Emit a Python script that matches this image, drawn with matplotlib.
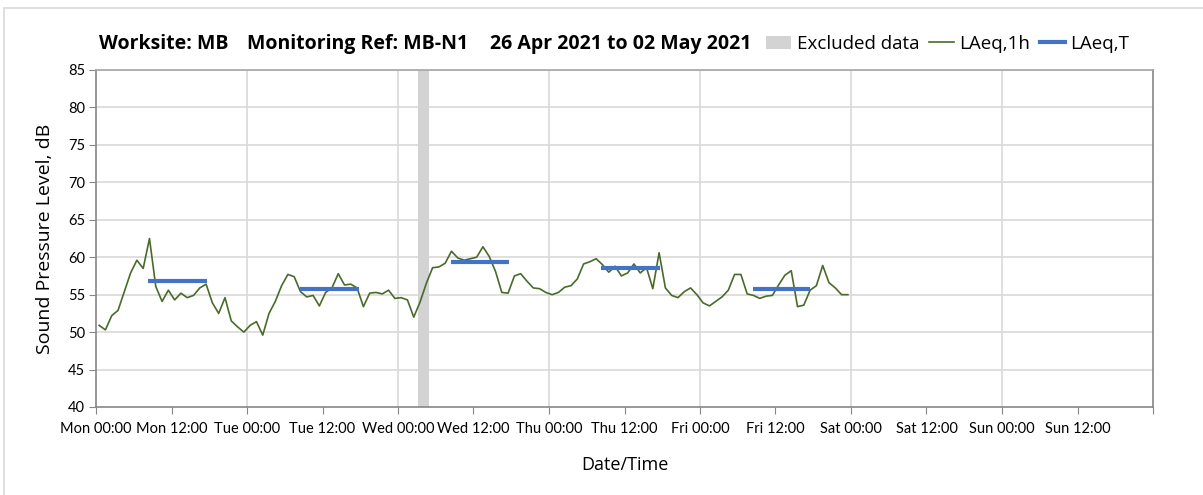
""" Noise monitoring chart, MB-N1
"""

import numpy as np
import matplotlib.pyplot as plt
from matplotlib.patches import Patch, Rectangle
from matplotlib.lines import Line2D

plt.rcParams['font.family'] = ['Lato', 'DejaVu Sans']

# Hourly LAeq,1h (dB), one value per hour from Mon 00:00
laeq_1h = [
    50.9, 50.3, 52.2, 52.9, 55.4, 57.9, 59.6, 58.5, 62.5, 56.1, 54.1, 55.6,
    54.3, 55.2, 54.6, 54.9, 55.9, 56.4, 53.9, 52.5, 54.6, 51.5, 50.7, 50.0,
    50.9, 51.4, 49.6, 52.5, 54.1, 56.2, 57.7, 57.4, 55.4, 54.7, 54.9, 53.5,
    55.3, 55.9, 57.8, 56.3, 56.4, 55.9, 53.4, 55.2, 55.3, 55.1, 55.6, 54.5,
    54.6, 54.3, 52.0, 54.0, 56.5, 58.6, 58.7, 59.2, 60.8, 59.9, 59.6, 59.8,
    60.0, 61.4, 60.1, 58.1, 55.3, 55.2, 57.5, 57.8, 56.8, 55.9, 55.8, 55.3,
    55.0, 55.3, 56.0, 56.2, 57.1, 59.1, 59.4, 59.8, 59.0, 58.0, 58.8, 57.5,
    57.9, 59.1, 57.9, 58.6, 55.8, 60.6, 55.9, 54.9, 54.6, 55.4, 55.9, 55.0,
    53.9, 53.5, 54.1, 54.7, 55.6, 57.7, 57.7, 55.1, 54.9, 54.5, 54.8, 54.9,
    56.3, 57.6, 58.2, 53.4, 53.6, 55.6, 56.2, 58.9, 56.6, 55.9, 55.0, 55.0,
]
# LAeq,T daytime periods (hours from Mon 00:00)
period_start = [8.3, 32.4, 56.4, 80.3, 104.4]
period_end = [17.6, 41.8, 65.6, 89.7, 113.5]
laeq_t = [56.8, 55.8, 59.4, 58.6, 55.7]
# Excluded data window (hours from Mon 00:00)
excluded_start = 51.1
excluded_end = 53.0

tick_labels = ['Mon 00:00', 'Mon 12:00', 'Tue 00:00', 'Tue 12:00', 'Wed 00:00',
               'Wed 12:00', 'Thu 00:00', 'Thu 12:00', 'Fri 00:00', 'Fri 12:00',
               'Sat 00:00', 'Sat 12:00', 'Sun 00:00', 'Sun 12:00', '']
title_parts = ['Worksite: MB', 'Monitoring Ref: MB-N1', '26 Apr 2021 to 02 May 2021']

GREEN = '#4a6a2a'
BLUE = '#4472c4'
GRID = '#d9d9d9'
AXIS = '#868686'
OPEN = ['Open Sans', 'DejaVu Sans']

fig = plt.figure(figsize=(12.03, 4.95), dpi=100)
ax = fig.add_axes([96 / 1203, 88 / 495, 1057 / 1203, 337 / 495])

hours = np.arange(len(laeq_1h)) + 0.5
ax.axvspan(excluded_start, excluded_end, color='#d3d3d3', lw=0, zorder=1)
ax.plot(hours, laeq_1h, color=GREEN, lw=1.2, zorder=3)
for s, e, v in zip(period_start, period_end, laeq_t):
    ax.plot([s, e], [v, v], color=BLUE, lw=3, solid_capstyle='butt', zorder=4)

ax.set_xlim(0, 168)
ax.set_ylim(40, 85)
ax.set_xticks(np.arange(0, 169, 12))
ax.set_xticklabels(tick_labels, fontsize=10.5)
ax.set_yticks(np.arange(40, 86, 5))
ax.tick_params(axis='y', labelsize=10.5, length=5, color=AXIS, pad=3)
ax.tick_params(axis='x', length=5, color=AXIS, pad=6)

# grid: horizontal every 5 dB, vertical at midnight only
for v in range(45, 86, 5):
    ax.axhline(v, color=GRID, lw=1.2, zorder=0)
for h in range(24, 168, 24):
    ax.axvline(h, color=GRID, lw=1.2, zorder=0)

for side in ['left', 'bottom', 'right', 'top']:
    ax.spines[side].set_color(AXIS)
    ax.spines[side].set_linewidth(1.2)
ax.spines['top'].set_color('#a6a6a6')

ax.set_ylabel('Sound Pressure Level, dB', fontsize=14, family=OPEN, labelpad=10)
ax.set_xlabel('Date/Time', fontsize=13, family=OPEN, labelpad=14)

for x, txt in zip([99, 247, 490], title_parts):
    fig.text(x / 1203, 1 - 44 / 495, txt, fontsize=14, fontweight='bold',
             family=OPEN, va='center', ha='left')

handles = [Patch(color='#d3d3d3', lw=0),
           Line2D([], [], color=GREEN, lw=1.2),
           Line2D([], [], color=BLUE, lw=3)]
fig.legend(handles, ['Excluded data', 'LAeq,1h', 'LAeq,T'], ncol=3,
           loc='center right', bbox_to_anchor=(1139 / 1203, 1 - 44 / 495),
           frameon=False, prop={'family': OPEN, 'size': 13.5},
           handlelength=1.35, handletextpad=0.3, columnspacing=0.5, borderpad=0)

# outer chart frame (partly cropped)
fig.patches.append(Rectangle((4 / 1203, -0.1), 1.2, 1 - 8 / 495 + 0.1,
                             transform=fig.transFigure, fill=False,
                             edgecolor='#d9d9d9', lw=1.2))

fig.savefig('out.png', dpi=100)
